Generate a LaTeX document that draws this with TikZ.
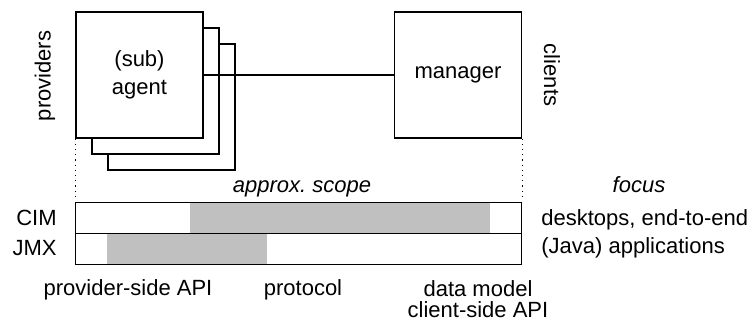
\documentclass[tikz,border=0pt]{standalone}
\usepackage{fontspec}
\setmainfont{Liberation Sans}
\usetikzlibrary{positioning}
\definecolor{scopegray}{RGB}{192,192,192}
\tikzset{box/.style={draw,fill=white,line width=0.6pt,minimum width=63.5pt,minimum height=63pt,inner sep=0pt,align=center},
	bar/.style={draw,line width=0.6pt,minimum width=223pt,minimum height=15.5pt,inner sep=0pt},
	lbl/.style={inner sep=0pt},
}

\begin{document}
\begin{tikzpicture}[x=0.5pt,y=-0.5pt,font=\fontsize{11}{13.8}\selectfont]
		\useasboundingbox (0,0) rectangle (752,324);
		% stacked agents, front one last
		\node[box] (agent3) at (171.5,107) {};
		\node[box] (agent2) at (155.5,91) {};
		\node[box] (agent) at (139.5,75) {(sub)\\agent};
		\node[box] (manager) at (458,75) {manager};
		\draw[line width=0.6pt] (agent.east) -- (manager.west);
		\node[lbl,rotate=90] (providers) at (45,76) {providers};
		\node[lbl,rotate=-90] (clients) at (552,75) {clients};
		%%
		% scope bars
		\fill[scopegray] (190,202) rectangle (490,233.5);
		\fill[scopegray] (107,233.5) rectangle (267,265);
		\node[bar] (cim) at (298.5,217.75) {};
		\node[bar] (jmx) at (298.5,249.25) {};
		\coordinate (scopeL) at (agent.south west |- 0,199);
		\coordinate (scopeR) at (manager.south east |- 0,199);
		\draw[dotted,line width=0.6pt] (agent.south west) -- (scopeL);
		\draw[dotted,line width=0.6pt] (manager.south east) -- (scopeR);
		
		\node[lbl,anchor=base] (scope) at (302,193) {\itshape approx.\ scope};
		\node[lbl,anchor=base] (focus) at (639,193) {\itshape focus};
		\node[lbl,anchor=base east] (cimlbl) at (57,225.5) {CIM};
		\node[lbl,anchor=base east] (jmxlbl) at (57,256) {JMX};
		\node[lbl,anchor=base west] (cimfocus) at (541,226) {desktops, end-to-end};
		\node[lbl,anchor=base west] (jmxfocus) at (541,254) {(Java) applications};
		
		\node[lbl,anchor=base] (provapi) at (128,296) {provider-side API};
		\node[lbl,anchor=base] (proto) at (303,296) {protocol};
		\node[lbl,anchor=base] (datamodel) at (478,296.5) {data model};
		\node[lbl,anchor=base] (clientapi) at (478,317.5) {client-side API};
	\end{tikzpicture}
\end{document}
